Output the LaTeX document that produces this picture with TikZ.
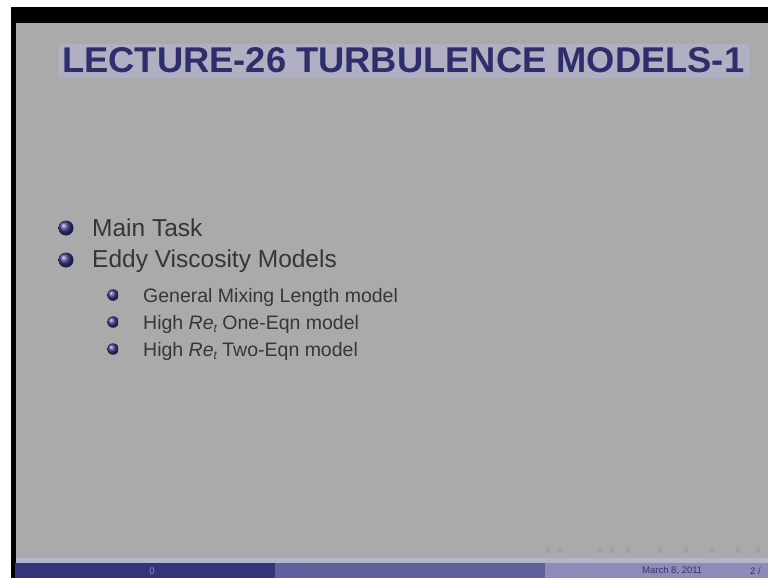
\documentclass[tikz,border=0pt]{standalone}
\usepackage{fontspec}
\setmainfont{Liberation Sans}
\usepackage{graphicx}
\definecolor{slidebg}{HTML}{AAAAAA}
\definecolor{titleblue}{HTML}{2E2E6C}
\definecolor{halo}{HTML}{B0B0C2}
\definecolor{bodytext}{HTML}{363636}
\definecolor{ballblue}{HTML}{3A3A86}
\definecolor{barone}{HTML}{34347A}
\definecolor{bartwo}{HTML}{60609C}
\definecolor{barthree}{HTML}{8C8CB6}
\definecolor{barline}{HTML}{B4B4CA}
\definecolor{navfaint}{HTML}{A0A0AA}
\tikzset{
  mainitem/.style={anchor=base west, inner sep=0pt, text=bodytext, font=\fontsize{24.5}{26}\selectfont},
  subitem/.style={anchor=base west, inner sep=0pt, text=bodytext, font=\fontsize{19.5}{21}\selectfont},
  mainball/.style={circle, inner sep=0pt, minimum size=15pt, ball color=ballblue},
  subball/.style={circle, inner sep=0pt, minimum size=11.5pt, ball color=ballblue},
  footertext/.style={inner sep=0pt, font=\fontsize{9.5}{10}\selectfont},
  navmark/.style={fill=navfaint, inner sep=0pt, minimum width=4pt, minimum height=6pt}
}
\begin{document}
\begin{tikzpicture}[x=1pt,y=-1pt]
\useasboundingbox (0,0) rectangle (768,578);
% frame of the photo
\fill[white] (0,0) rectangle (768,578);
\fill[black] (11,7) rectangle (768,578);
\fill[slidebg] (16,23) rectangle (768,563);
% title halo and title
\fill[halo, rounded corners=4pt] (58,44) rectangle (750,78);
\node[anchor=south west, inner sep=0pt, text=titleblue] (title) at (62,73)
  {\resizebox{682pt}{25pt}{\bfseries LECTURE-26 TURBULENCE MODELS-1}};
% items
\node[mainball] (b1) at (66,228) {};
\node[mainitem] (t1) at (92,236) {Main Task};
\node[mainball] (b2) at (66,260) {};
\node[mainitem] (t2) at (92,267) {Eddy Viscosity Models};
\node[subball] (s1) at (113,295) {};
\node[subitem] (u1) at (143,302) {General Mixing Length model};
\node[subball] (s2) at (113,322) {};
\node[subitem] (u2) at (143,329) {High \textit{Re}\raisebox{-0.3ex}{\fontsize{12}{12}\selectfont\itshape t} One-Eqn model};
\node[subball] (s3) at (113,349) {};
\node[subitem] (u3) at (143,356) {High \textit{Re}\raisebox{-0.3ex}{\fontsize{12}{12}\selectfont\itshape t} Two-Eqn model};
% navigation symbols (faint)
\foreach \nx in {548,560,600,612,628,660,686,712,738,758}
  \node[navmark] at (\nx,550) {};
% footer bar
\fill[barline] (16,558) rectangle (768,563);
\fill[barone] (15,563) rectangle (275,578);
\fill[bartwo] (275,563) rectangle (545,578);
\fill[barthree] (545,563) rectangle (768,578);
\node[footertext, text=barthree] (auth) at (152,571) {0};
\node[footertext, text=barone, anchor=west] (date) at (642,571) {March 8, 2011};
\node[footertext, text=barone, anchor=west] (page) at (750,571) {2 /};
\end{tikzpicture}
\end{document}
